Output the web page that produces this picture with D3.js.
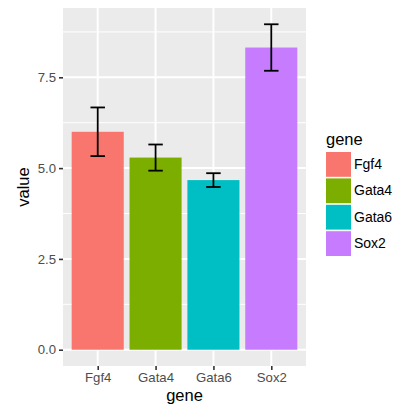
<!DOCTYPE html>
<html>
<head>
<meta charset="utf-8">
<script src="https://cdn.jsdelivr.net/npm/d3@7"></script>
<style>
  body { margin: 0; background: #fff; }
  text { font-family: "Liberation Sans", Arial, sans-serif; }
</style>
</head>
<body>
<div id="chart"></div>
<script>
var genes = ["Fgf4", "Gata4", "Gata6", "Sox2"];
var means = [6.0, 5.29, 4.67, 8.32];
var errs = [0.67, 0.36, 0.19, 0.64];
var colours = ["#F8766D", "#7CAE00", "#00BFC4", "#C77CFF"];
var yTicks = [0, 2.5, 5, 7.5];
var yMinor = [1.25, 3.75, 6.25, 8.75];

var data = genes.map(function(g, i) {
  return {gene: g, value: means[i], lo: means[i] - errs[i], hi: means[i] + errs[i]};
});

var W = 402, H = 404;
var margin = {top: 8, right: 96, bottom: 38, left: 63},
    width = W - margin.left - margin.right,
    height = H - margin.top - margin.bottom;

var svg = d3.select("#chart").append("svg")
    .attr("width", W)
    .attr("height", H)
  .append("g")
    .attr("transform", "translate(" + margin.left + "," + margin.top + ")");

// ggplot style expansion: 5% of data range each side
var yMax = d3.max(data, function(d) { return d.hi; });
var pad = yMax * 0.05;
var y = d3.scaleLinear()
    .domain([-pad, yMax + pad])
    .range([height, 0]);

// discrete axis with 0.6 expansion each side
var step = width / (genes.length + 0.2);
var x = d3.scalePoint()
    .domain(genes)
    .range([0.6 * step, width - 0.6 * step]);

var colour = d3.scaleOrdinal().domain(genes).range(colours);

// panel
svg.append("rect")
    .attr("width", width)
    .attr("height", height)
    .attr("fill", "#EBEBEB");

// minor grid
svg.selectAll(".minor")
    .data(yMinor)
  .enter().append("line")
    .attr("x1", 0).attr("x2", width)
    .attr("y1", function(d) { return y(d); })
    .attr("y2", function(d) { return y(d); })
    .attr("stroke", "#fff")
    .attr("stroke-width", 1);

// major grid
svg.selectAll(".majorY")
    .data(yTicks)
  .enter().append("line")
    .attr("x1", 0).attr("x2", width)
    .attr("y1", function(d) { return y(d); })
    .attr("y2", function(d) { return y(d); })
    .attr("stroke", "#fff")
    .attr("stroke-width", 2);

svg.selectAll(".majorX")
    .data(genes)
  .enter().append("line")
    .attr("y1", 0).attr("y2", height)
    .attr("x1", function(d) { return x(d); })
    .attr("x2", function(d) { return x(d); })
    .attr("stroke", "#fff")
    .attr("stroke-width", 2);

// bars
var barW = step * 0.9;
svg.selectAll(".bar")
    .data(data)
  .enter().append("rect")
    .attr("x", function(d) { return x(d.gene) - barW / 2; })
    .attr("width", barW)
    .attr("y", function(d) { return y(d.value); })
    .attr("height", function(d) { return y(0) - y(d.value); })
    .attr("fill", function(d) { return colour(d.gene); });

// error bars
var capW = step * 0.25;
var eb = svg.selectAll(".err")
    .data(data)
  .enter().append("g")
    .attr("stroke", "#000")
    .attr("stroke-width", 1.8);
eb.append("line")
    .attr("x1", function(d) { return x(d.gene); })
    .attr("x2", function(d) { return x(d.gene); })
    .attr("y1", function(d) { return y(d.lo); })
    .attr("y2", function(d) { return y(d.hi); });
eb.append("line")
    .attr("x1", function(d) { return x(d.gene) - capW / 2; })
    .attr("x2", function(d) { return x(d.gene) + capW / 2; })
    .attr("y1", function(d) { return y(d.hi); })
    .attr("y2", function(d) { return y(d.hi); });
eb.append("line")
    .attr("x1", function(d) { return x(d.gene) - capW / 2; })
    .attr("x2", function(d) { return x(d.gene) + capW / 2; })
    .attr("y1", function(d) { return y(d.lo); })
    .attr("y2", function(d) { return y(d.lo); });

// axes
var yAxis = svg.append("g")
    .call(d3.axisLeft(y).tickValues(yTicks).tickFormat(d3.format(".1f"))
      .tickSize(4).tickPadding(3));
var xAxis = svg.append("g")
    .attr("transform", "translate(0," + height + ")")
    .call(d3.axisBottom(x).tickSize(4).tickPadding(3));

[yAxis, xAxis].forEach(function(a) {
  a.select(".domain").remove();
  a.selectAll(".tick line").attr("stroke", "#333333").attr("stroke-width", 1.6);
  a.selectAll(".tick text")
    .attr("fill", "#4D4D4D")
    .style("font-size", "13.2px")
    .style("font-family", "Liberation Sans, Arial, sans-serif");
});

// axis titles
svg.append("text")
    .attr("x", width / 2)
    .attr("y", height + 34.5)
    .attr("text-anchor", "middle")
    .style("font-size", "16.5px")
    .text("gene");

svg.append("text")
    .attr("transform", "rotate(-90)")
    .attr("x", -height / 2)
    .attr("y", -34)
    .attr("text-anchor", "middle")
    .style("font-size", "16.5px")
    .text("value");

// legend
var legend = svg.append("g")
    .attr("transform", "translate(" + (width + 20) + "," + 136.5 + ")");
legend.append("text")
    .attr("x", 0)
    .attr("y", 0)
    .style("font-size", "16.5px")
    .text("gene");

var keyH = 26.4;
var items = legend.selectAll(".key")
    .data(genes)
  .enter().append("g")
    .attr("transform", function(d, i) { return "translate(0," + (7.5 + i * keyH) + ")"; });
items.append("rect")
    .attr("width", 25)
    .attr("height", keyH - 1.6)
    .attr("fill", function(d) { return colour(d); });
items.append("text")
    .attr("x", 28)
    .attr("y", keyH / 2 - 1)
    .attr("dy", "0.35em")
    .style("font-size", "14px")
    .text(function(d) { return d; });
</script>
</body>
</html>
